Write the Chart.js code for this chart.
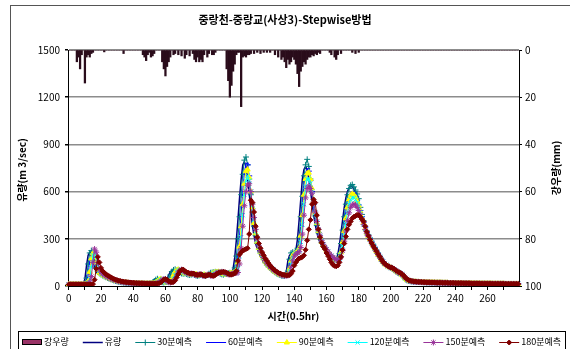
<!DOCTYPE html>
<html>
<head>
<meta charset="utf-8">
<script src="https://cdn.jsdelivr.net/npm/chart.js@4.4.0/dist/chart.umd.min.js"></script>
<style>
  html, body { margin: 0; padding: 0; background: #fff; }
  #wrap { width: 570px; height: 349px; }
</style>
</head>
<body>
<div id="wrap"><canvas id="rain-flow" width="570" height="349"></canvas></div>
<script>
// time steps (0.5 hr each)
const STEPS = 280;
const steps = [];
for (let i = 0; i < STEPS; i++) steps.push(i);
const xTickLabels = [0, 20, 40, 60, 80, 100, 120, 140, 160, 180, 200, 220, 240, 260];

// 강우량 (mm), right axis (reversed)
const rain = [
  0,0,0,0,0,5,3,8,2,0, 14,3,2,3,1.5,1,0,0,0,0,
  0,0,0.8,0,0,0,0,0,0,0, 0,0,0,0,1.5,0,0,0,0,0,
  0,0,0,0,0,0,2,3,4.5,2, 1,3,2.5,1.5,0,0,0,0,5,8,
  11,7,5,3,0,2,1.5,0,2,0, 2.5,0,3.5,2,0,2.5,0,1.5,4,5,
  3,5,4,5,2,0,3,1.5,0,2, 2,1,0,0,0,0,0,0,8,13,
  20,15,9,6,2,1,1,24,3,2.5, 3,2,2,1.5,0,1.5,0,1,0,1.5,
  0,1,0,1,0,1,0,0,2,0, 3,0,4,3,5,7.5,4,6,5,3,
  4,6,10,15.5,9,7,5,6,4,3, 3,2,2.5,1.5,2,1,1.5,0,0,0,
  0,0,1,2,0,3,4,2,0,1.5, 0,0,0,0,0,0,1,0,1.5,0,
  1,0,0,0,0,0,0,0,0,0, 0,0,0,0,0,0,0,0,0,0,
  0,0,0,0,0,0,0,0,0,0, 0,0,0,0,0,0,0,0,0,0,
  0,0,0,0,0,0,0,0,0,0, 0,0,0,0,0,0,0,0,0,0,
  0,0,0,0,0,0,0,0,0,0, 0,0,0,0,0,0,0,0,0,0,
  0,0,0,0,0,0,0,0,0,0, 0,0,0,0,0,0,0,0,0,0
];

// 유량 (m3/sec), observed
const flowObs = [
  10,10,10,10,10,10,10,10,12,15,
  45,130,195,215,210,160,115,90,78,72,
  66,60,55,50,46,42,38,34,31,28,
  26,24,22,21,20,19,18,18,17,17,
  16,16,16,15,15,15,15,15,15,16,
  18,22,30,40,46,38,28,24,22,26,
  30,45,70,90,100,105,95,88,85,80,
  78,80,76,72,70,72,75,70,66,64,
  68,72,70,66,64,70,78,84,86,88,
  90,88,84,78,74,72,76,80,82,84,
  80,85,110,180,290,420,560,680,770,790,
  760,680,590,480,380,320,270,235,210,190,
  170,150,135,125,115,105,95,88,80,75,
  70,66,64,64,68,90,160,195,205,210,
  215,230,300,420,550,680,740,760,740,680,
  610,530,450,390,340,300,275,255,240,225,
  210,195,185,175,168,165,170,200,260,340,
  420,500,560,600,625,635,630,615,590,560,
  500,460,420,385,350,325,305,285,265,245,
  228,210,190,172,155,140,133,126,120,115,
  110,100,92,85,80,75,68,55,42,35,
  32,30,28,27,27,26,26,25,25,24,
  24,24,23,23,23,22,22,22,21,21,
  21,21,20,20,20,20,19,19,19,19,
  18,18,18,18,18,17,17,17,17,17,
  16,16,16,16,16,16,15,15,15,15,
  15,15,15,14,14,14,14,14,14,14,
  14,13,13,13,13,13,13,13,13,13
];

// 30분예측
const fc30 = [
  10,10,10,10,10,10,10,10,10,12,
  18,50,140,210,225,215,165,118,92,80,
  73,67,61,56,51,47,43,39,35,32,
  29,27,25,23,22,21,20,19,18,18,
  17,17,16,16,15,15,15,15,15,15,
  16,18,22,30,40,46,38,28,24,22,
  26,30,45,70,92,102,106,96,88,85,
  80,78,80,76,72,70,72,75,70,66,
  64,68,72,70,66,64,70,78,84,86,
  88,90,88,84,78,74,72,76,80,82,
  84,82,88,115,190,300,440,580,710,800,
  820,770,680,580,470,380,320,270,235,210,
  190,170,150,135,125,115,105,95,88,80,
  75,70,66,64,64,70,95,170,210,215,
  212,220,240,310,440,570,700,770,805,760,
  680,600,520,445,385,338,300,275,255,240,
  225,210,195,185,176,169,166,172,205,270,
  355,440,520,580,620,640,645,630,610,585,
  555,500,455,415,380,350,325,305,285,265,
  245,228,210,190,172,155,141,133,126,120,
  115,110,100,92,85,80,75,68,55,42,
  35,32,30,28,27,27,26,26,25,25,
  24,24,23,23,23,22,22,22,21,21,
  21,21,20,20,20,20,19,19,19,19,
  18,18,18,18,18,17,17,17,17,17,
  16,16,16,16,16,16,15,15,15,15,
  15,15,15,14,14,14,14,14,14,14,
  14,13,13,13,13,13,13,13,13,13
];

// 60분예측
const fc60 = [
  10,10,10,10,10,10,10,10,10,10,
  12,25,70,160,215,210,185,130,95,82,
  76,70,64,58,53,48,44,40,36,33,
  30,28,26,24,22,21,20,19,18,18,
  17,17,16,16,16,15,15,15,15,15,
  15,16,18,22,30,40,46,38,28,24,
  22,26,30,45,70,90,100,105,95,88,
  85,80,78,80,76,72,70,72,75,70,
  66,64,68,72,70,66,64,70,78,84,
  86,88,90,88,84,78,74,72,76,80,
  82,84,80,92,125,200,320,460,600,720,
  780,770,700,600,490,390,325,275,238,212,
  192,172,152,137,126,116,106,96,89,81,
  76,71,67,65,64,68,88,130,185,205,
  210,214,228,270,380,510,640,720,745,730,
  670,600,520,450,390,340,302,276,256,240,
  226,211,196,186,176,169,166,168,190,240,
  310,390,470,535,575,595,600,590,570,545,
  515,480,440,405,370,340,318,298,278,258,
  240,222,205,188,170,155,142,134,127,121,
  116,111,104,95,88,82,77,70,58,45,
  37,33,30,28,27,27,26,26,25,25,
  24,24,23,23,23,22,22,22,21,21,
  21,21,20,20,20,20,19,19,19,19,
  18,18,18,18,18,17,17,17,17,17,
  16,16,16,16,16,16,15,15,15,15,
  15,15,15,14,14,14,14,14,14,14,
  14,13,13,13,13,13,13,13,13,13
];

// 90분예측
const fc90 = [
  10,10,10,10,10,10,10,10,10,10,
  10,14,30,90,175,210,200,150,105,86,
  78,72,66,60,55,50,45,41,37,34,
  31,28,26,25,23,22,21,20,19,18,
  17,17,17,16,16,16,15,15,15,15,
  15,15,16,18,22,30,40,45,38,28,
  24,22,26,30,45,70,90,100,104,95,
  88,85,80,78,80,76,72,70,72,75,
  70,66,64,68,72,70,66,64,70,78,
  84,86,88,90,88,84,78,74,72,76,
  80,82,84,82,100,150,250,380,520,650,
  730,740,690,600,500,400,335,282,242,215,
  195,175,155,140,128,118,108,98,90,83,
  78,72,68,66,65,66,75,110,160,195,
  205,210,215,240,320,450,580,680,715,720,
  680,620,540,465,400,350,310,280,260,243,
  228,213,198,188,178,170,166,166,178,215,
  280,350,430,500,550,575,585,580,565,540,
  510,475,435,400,365,338,316,296,276,256,
  238,220,202,186,168,154,142,134,127,121,
  116,111,105,96,89,83,78,71,60,47,
  38,34,31,29,27,27,26,26,25,25,
  24,24,23,23,23,22,22,22,21,21,
  21,21,20,20,20,20,19,19,19,19,
  18,18,18,18,18,17,17,17,17,17,
  16,16,16,16,16,16,15,15,15,15,
  15,15,15,14,14,14,14,14,14,14,
  14,13,13,13,13,13,13,13,13,13
];

// 120분예측
const fc120 = [
  10,10,10,10,10,10,10,10,10,10,
  10,11,18,45,120,195,215,185,130,96,
  82,74,68,62,57,52,47,43,39,35,
  32,29,27,25,24,23,21,20,19,18,
  18,17,17,16,16,16,15,15,15,15,
  15,15,15,16,18,22,30,40,45,38,
  28,24,22,26,30,45,70,90,100,104,
  95,88,85,80,78,80,76,72,70,72,
  75,70,66,64,68,72,70,66,64,70,
  78,84,86,88,90,88,84,78,74,72,
  76,80,82,84,85,110,190,310,450,580,
  670,700,670,600,510,420,345,290,248,220,
  198,178,158,142,130,120,110,100,92,85,
  79,74,69,66,65,65,70,95,140,180,
  200,208,212,225,280,390,520,630,680,680,
  650,600,535,465,405,355,315,285,262,245,
  230,215,200,190,180,172,167,165,172,200,
  255,320,395,465,520,550,560,560,550,530,
  505,470,432,398,364,337,315,295,275,256,
  238,220,202,186,168,154,142,134,127,121,
  116,112,106,97,90,84,79,72,62,49,
  40,35,32,29,28,27,26,26,25,25,
  24,24,23,23,23,22,22,22,21,21,
  21,21,20,20,20,20,19,19,19,19,
  18,18,18,18,18,17,17,17,17,17,
  16,16,16,16,16,16,15,15,15,15,
  15,15,15,14,14,14,14,14,14,14,
  14,13,13,13,13,13,13,13,13,13
];

// 150분예측
const fc150 = [
  10,10,10,10,10,10,10,10,10,10,
  10,10,12,25,60,150,235,215,150,105,
  88,78,70,64,58,53,48,44,40,36,
  33,30,28,26,24,23,22,21,20,19,
  18,17,17,17,16,16,16,15,15,15,
  15,15,15,15,16,18,22,30,40,44,
  38,28,24,22,26,30,45,70,90,100,
  104,95,88,85,80,78,80,76,72,70,
  72,75,70,66,64,68,72,70,66,64,
  70,78,84,86,88,90,88,84,78,74,
  72,76,80,82,84,86,140,240,380,510,
  600,640,650,600,520,435,360,300,255,225,
  202,182,162,146,133,122,112,102,94,87,
  81,75,70,67,66,65,67,80,120,160,
  190,202,210,218,245,330,450,560,620,635,
  620,590,535,470,410,360,320,288,265,247,
  232,217,202,192,182,174,168,165,168,185,
  225,285,350,415,465,500,515,520,515,500,
  480,455,425,392,360,335,314,294,274,255,
  237,219,201,185,168,154,142,134,127,121,
  117,113,107,98,91,85,80,73,64,51,
  42,36,33,30,28,27,26,26,25,25,
  24,24,23,23,23,22,22,22,21,21,
  21,21,20,20,20,20,19,19,19,19,
  18,18,18,18,18,17,17,17,17,17,
  16,16,16,16,16,16,15,15,15,15,
  15,15,15,14,14,14,14,14,14,14,
  14,13,13,13,13,13,13,13,13,13
];

// 180분예측
const fc180 = [
  10,10,10,10,10,10,10,10,10,10,
  10,10,10,10,10,12,40,110,185,150,
  115,95,85,75,68,62,56,50,45,41,
  37,34,31,29,27,25,24,23,22,21,
  20,19,18,18,17,17,17,16,16,16,
  15,15,15,15,15,16,18,22,30,40,
  45,40,30,25,24,26,35,55,75,95,
  102,105,96,88,85,80,78,80,76,72,
  70,72,75,70,66,64,68,72,70,66,
  64,70,78,84,86,88,90,88,84,78,
  74,72,76,80,95,160,200,215,225,230,
  235,240,330,545,530,470,380,310,270,240,
  215,195,175,160,145,130,118,108,100,92,
  85,80,75,72,70,68,68,70,78,95,
  130,150,165,175,180,185,195,230,290,360,
  420,520,550,530,450,360,310,275,250,235,
  210,190,170,150,135,128,125,130,150,185,
  229,270,315,360,390,410,430,440,445,451,
  450,440,425,410,380,345,320,295,273,255,
  238,221,203,187,170,155,143,135,128,122,
  118,114,108,100,93,87,82,75,66,53,
  44,37,34,31,29,28,27,26,26,25,
  24,24,23,23,23,22,22,22,21,21,
  21,21,20,20,20,20,19,19,19,19,
  18,18,18,18,18,17,17,17,17,17,
  16,16,16,16,16,16,15,15,15,15,
  15,15,15,14,14,14,14,14,14,14,
  14,13,13,13,13,13,13,13,13,13
];

const FONT = '"Noto Sans CJK KR", "Noto Sans", sans-serif';

// series look, Excel 2003 style
const lineSeries = [
  { label: '유량',      data: flowObs, color: '#000080', style: false,      radius: 0,   width: 1.5 },
  { label: '30분예측',  data: fc30,    color: '#008080', style: 'cross',    radius: 3,   width: 1 },
  { label: '60분예측',  data: fc60,    color: '#0000FF', style: 'dash',     radius: 3,   width: 1 },
  { label: '90분예측',  data: fc90,    color: '#FFFF00', style: 'triangle', radius: 3,   width: 1 },
  { label: '120분예측', data: fc120,   color: '#00FFFF', style: 'crossRot', radius: 3,   width: 1 },
  { label: '150분예측', data: fc150,   color: '#993399', style: 'star',     radius: 3,   width: 1 },
  { label: '180분예측', data: fc180,   color: '#800000', style: 'rectRot',  radius: 2.5, width: 1 }
];

// thin Excel bars read almost black, the maroon only shows at the edges
const datasets = [{
  type: 'bar',
  label: '강우량',
  data: rain,
  yAxisID: 'y2',
  backgroundColor: '#2a0c1b',
  borderColor: '#000000',
  borderWidth: 0,
  barPercentage: 1,
  categoryPercentage: 1,
  order: 10
}];
lineSeries.forEach((s, i) => {
  datasets.push({
    type: 'line',
    label: s.label,
    data: s.data,
    yAxisID: 'y',
    borderColor: s.color,
    backgroundColor: s.color,
    borderWidth: s.width,
    pointStyle: s.style,
    pointRadius: s.radius,
    pointBorderWidth: 1,
    pointBorderColor: s.color,
    pointBackgroundColor: s.color,
    tension: 0,
    fill: false,
    order: lineSeries.length - i
  });
});

// titles, frame and the boxed legend, drawn like the Excel original
const excelFrame = {
  id: 'excelFrame',
  afterDraw(chart) {
    const ctx = chart.ctx;
    ctx.save();
    ctx.strokeStyle = '#555';
    ctx.lineWidth = 1;
    ctx.strokeRect(10.5, 5.5, 620, 400);

    ctx.fillStyle = '#000';
    ctx.textAlign = 'center';
    ctx.textBaseline = 'middle';
    ctx.font = 'bold 11px ' + FONT;
    ctx.fillText('중랑천-중랑교(사상3)-Stepwise방법', 285, 20);

    ctx.font = 'bold 10px ' + FONT;
    const ca = chart.chartArea;
    ctx.fillText('시간(0.5hr)', (ca.left + ca.right) / 2, 316);

    ctx.save();
    ctx.translate(22, 170);
    ctx.rotate(-Math.PI / 2);
    ctx.fillText('유량(m 3/sec)', 0, 0);
    ctx.restore();

    ctx.save();
    ctx.translate(556, 168);
    ctx.rotate(-Math.PI / 2);
    ctx.fillText('강우량(mm)', 0, 0);
    ctx.restore();

    // legend
    const boxL = 18, boxR = 565, boxT = 331;
    ctx.strokeStyle = '#000';
    ctx.strokeRect(boxL + 0.5, boxT + 0.5, boxR - boxL, 40);
    ctx.font = '9px ' + FONT;
    ctx.textAlign = 'left';
    const symW = 20, symGap = 2;
    const names = ['강우량'].concat(lineSeries.map(s => s.label));
    let total = 0;
    names.forEach(n => { total += symW + symGap + ctx.measureText(n).width; });
    const gap = (boxR - boxL - 8 - total) / (names.length - 1);
    let x = boxL + 4;
    const yMid = 342;
    names.forEach((n, i) => {
      if (i === 0) {
        ctx.fillStyle = '#993366';
        ctx.fillRect(x, yMid - 3, symW, 6);
        ctx.strokeStyle = '#000';
        ctx.strokeRect(x + 0.5, yMid - 2.5, symW - 1, 5);
      } else {
        const s = lineSeries[i - 1];
        ctx.strokeStyle = s.color;
        ctx.fillStyle = s.color;
        ctx.lineWidth = s.width;
        ctx.beginPath();
        ctx.moveTo(x, yMid + 0.5);
        ctx.lineTo(x + symW, yMid + 0.5);
        ctx.stroke();
        if (s.style) {
          ctx.lineWidth = 1;
          Chart.helpers.drawPoint(ctx, { pointStyle: s.style, radius: s.radius, rotation: 0, borderWidth: 1 }, x + symW / 2, yMid + 0.5);
        }
      }
      x += symW + symGap;
      ctx.fillStyle = '#000';
      ctx.fillText(n, x, yMid);
      x += ctx.measureText(n).width + gap;
    });
    ctx.restore();
  }
};

const ctx = document.getElementById('rain-flow').getContext('2d');
new Chart(ctx, {
  data: { labels: steps, datasets: datasets },
  plugins: [excelFrame],
  options: {
    responsive: false,
    animation: false,
    devicePixelRatio: 1,
    layout: { padding: { left: 10, right: 10, top: 50, bottom: 24 } },
    plugins: {
      legend: { display: false },
      title: { display: false },
      tooltip: { enabled: false }
    },
    scales: {
      x: {
        offset: true,
        border: { color: '#000', width: 1 },
        grid: { drawOnChartArea: false, drawTicks: true, tickLength: 4, color: '#000', offset: false },
        ticks: {
          autoSkip: false, maxRotation: 0, minRotation: 0, padding: 2,
          color: '#000', font: { family: FONT, size: 10 },
          callback: function (v) {
            const t = steps[v];
            if (xTickLabels.includes(t)) return String(t);
            if (t % 10 === 0) return '';
            return null;
          }
        },
        afterFit: function (s) { s.height = 39; }
      },
      y: {
        position: 'left',
        min: 0, max: 1500,
        border: { color: '#000', width: 1 },
        grid: {
          color: c => (c.tick && c.tick.value === 0) ? 'rgba(0,0,0,0)' : '#8c8c8c',
          lineWidth: 1.5, drawTicks: true, tickLength: 3, tickColor: '#000'
        },
        ticks: {
          stepSize: 300, padding: 5, color: '#000', font: { family: FONT, size: 10 },
          callback: v => String(v)
        },
        afterFit: function (s) { s.width = 58; }
      },
      y2: {
        position: 'right',
        reverse: true,
        min: 0, max: 100,
        border: { color: '#000', width: 1 },
        grid: { drawOnChartArea: false, drawTicks: true, tickLength: 3, color: '#000' },
        ticks: {
          stepSize: 20, padding: 3, color: '#000', font: { family: FONT, size: 10 },
          callback: v => String(v)
        },
        afterFit: function (s) { s.width = 41; }
      }
    }
  }
});
</script>
</body>
</html>
